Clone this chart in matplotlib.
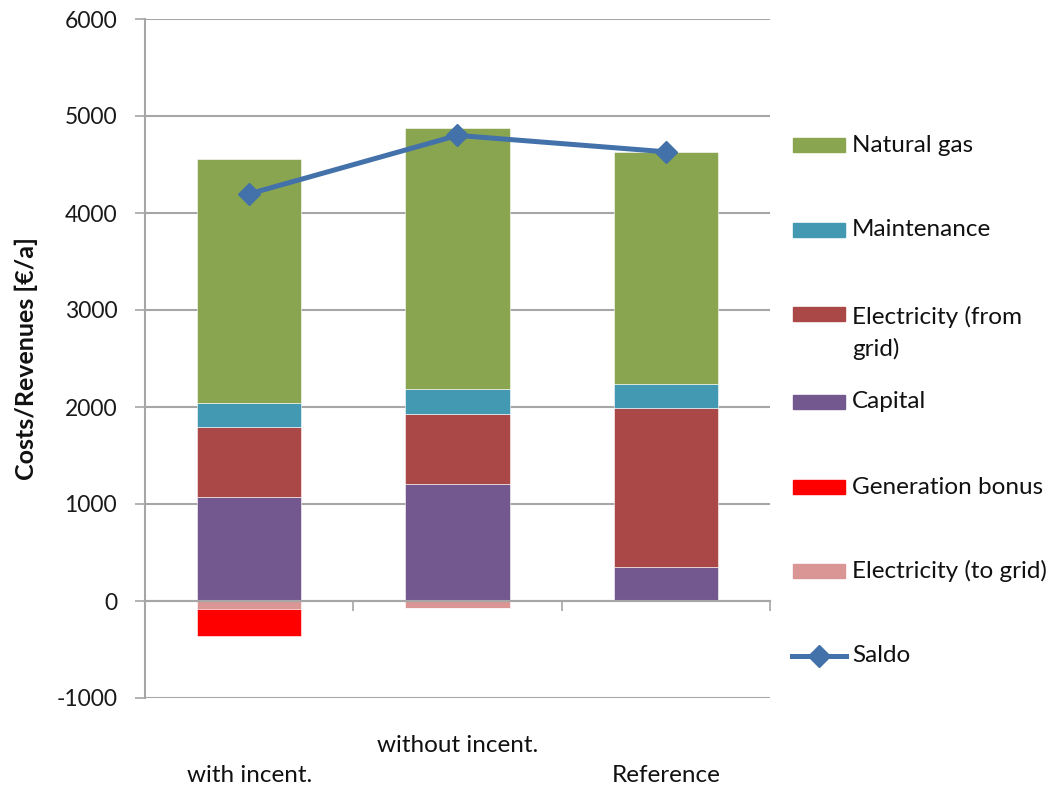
import matplotlib
matplotlib.use("Agg")
import matplotlib.pyplot as plt
import matplotlib.transforms as mtransforms
from matplotlib.patches import Rectangle
from matplotlib.lines import Line2D
import numpy as np

categories = ["with incent.", "without incent.", "Reference"]
capital = [1075, 1205, 353]
elec_from_grid = [723, 727, 1637]
maintenance = [247, 250, 243]
natural_gas = [2514, 2697, 2395]
elec_to_grid = [-82, -75, 0]
generation_bonus = [-278, 0, 0]
saldo = [4197, 4800, 4631]

yticks = [-1000, 0, 1000, 2000, 3000, 4000, 5000, 6000]

colors = {
    "Natural gas": "#8AA550",
    "Maintenance": "#4399B1",
    "Electricity (from\ngrid)": "#A94846",
    "Capital": "#72588E",
    "Generation bonus": "#FF0000",
    "Electricity (to grid)": "#DA9694",
}
saldo_color = "#4371A9"

W, H = 1059, 789
fig = plt.figure(figsize=(W / 100, H / 100), dpi=100)
ax = fig.add_axes([145 / W, 1 - 698 / H, (770 - 145) / W, (698 - 19) / H])

x = np.arange(len(categories))
bw = 0.5
pos_series = [
    (capital, "Capital"),
    (elec_from_grid, "Electricity (from\ngrid)"),
    (maintenance, "Maintenance"),
    (natural_gas, "Natural gas"),
]
bottom = np.zeros(len(x))
for vals, name in pos_series:
    ax.bar(x, vals, bw, bottom=bottom, color=colors[name], zorder=2,
           edgecolor="white", linewidth=0.4)
    bottom = bottom + np.array(vals)

neg_series = [
    (elec_to_grid, "Electricity (to grid)"),
    (generation_bonus, "Generation bonus"),
]
nbottom = np.zeros(len(x))
for vals, name in neg_series:
    ax.bar(x, vals, bw, bottom=nbottom, color=colors[name], zorder=2,
           edgecolor="white", linewidth=0.4)
    nbottom = nbottom + np.array(vals)

ax.plot(x, saldo, color=saldo_color, lw=3.6, marker="D", markersize=11,
        zorder=4, solid_capstyle="round")

ax.set_xlim(-0.5, 2.5)
ax.set_ylim(-1000, 6000)
ax.set_yticks(yticks)
ax.set_yticklabels([str(v) for v in yticks], fontsize=16.5, family="Lato",
                   color="#1a1a1a")
ax.yaxis.grid(True, color="#A6A6A6", lw=1.5, zorder=0)
ax.set_axisbelow(True)

for s in ["top", "right"]:
    ax.spines[s].set_visible(False)
ax.spines["left"].set_color("#A6A6A6")
ax.spines["left"].set_linewidth(1.5)
ax.spines["bottom"].set_position(("data", 0))
ax.spines["bottom"].set_color("#A6A6A6")
ax.spines["bottom"].set_linewidth(1.5)
ax.spines["bottom"].set_zorder(3)
ax.tick_params(axis="y", length=7, width=1.2, color="#A6A6A6", pad=13)
ax.set_xticks([0.5, 1.5, 2.5])
ax.set_xticklabels([])
ax.tick_params(axis="x", length=7, width=1.2, color="#A6A6A6", direction="out")

ax.set_ylabel("Costs/Revenues [€/a]", fontsize=18, fontweight="bold",
              family="Lato", color="#111111")
ax.yaxis.set_label_coords(-0.172, 0.5)

# staggered category labels
trans = mtransforms.blended_transform_factory(ax.transData, fig.transFigure)
label_rows = [0, 1, 0]
for xi, lab, row in zip(x, categories, label_rows):
    ypix = 775 if row == 0 else 745
    ax.text(xi, 1 - ypix / H, lab, transform=trans,
            ha="center", va="center", fontsize=17.5, family="Lato", color="#111111")

# manual legend
legend_items = [
    ("Natural gas", 145),
    ("Maintenance", 230),
    ("Electricity (from\ngrid)", 314),
    ("Capital", 402),
    ("Generation bonus", 487),
    ("Electricity (to grid)", 571),
]
for name, ypix in legend_items:
    fig.add_artist(Rectangle((793 / W, 1 - (ypix + 7) / H), 52 / W, 14 / H,
                             transform=fig.transFigure, color=colors[name]))
    if "\n" in name:
        fig.text(852 / W, 1 - (ypix - 8) / H, name, ha="left", va="top",
                 fontsize=17.5, family="Lato", color="#111111", linespacing=1.55)
    else:
        fig.text(852 / W, 1 - ypix / H, name, ha="left", va="center",
                 fontsize=17.5, family="Lato", color="#111111")
fig.add_artist(Line2D([792 / W, 846 / W], [1 - 656 / H] * 2, transform=fig.transFigure,
                      color=saldo_color, lw=3.6))
fig.add_artist(Line2D([819 / W], [1 - 656 / H], transform=fig.transFigure,
                      color=saldo_color, marker="D", markersize=11, lw=0))
fig.text(852 / W, 1 - 656 / H, "Saldo", ha="left", va="center", fontsize=17.5,
         family="Lato", color="#111111")

fig.savefig("out.png", dpi=100)
